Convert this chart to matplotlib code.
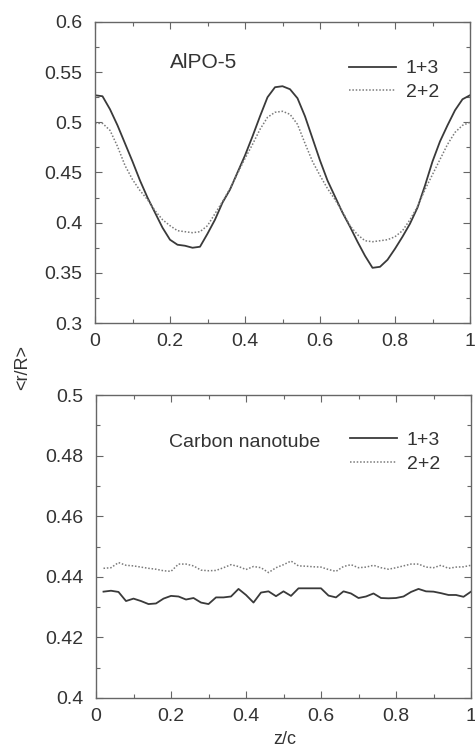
import numpy as np
import matplotlib
matplotlib.use("Agg")
import matplotlib.pyplot as plt
from matplotlib.ticker import MultipleLocator, FuncFormatter

plt.rcParams['font.family'] = ['Liberation Sans', 'DejaVu Sans']

# ---- Top panel (AlPO-5) ----
top_x = np.round(np.arange(0, 1.0001, 0.02), 2)
top_13 = [0.527, 0.526, 0.513, 0.497, 0.479, 0.461, 0.442, 0.425, 0.410, 0.395,
          0.383, 0.378, 0.377, 0.375, 0.376, 0.389, 0.403, 0.420, 0.433, 0.450,
          0.467, 0.486, 0.506, 0.525, 0.535, 0.536, 0.533, 0.524, 0.506, 0.484,
          0.462, 0.442, 0.426, 0.410, 0.396, 0.381, 0.367, 0.355, 0.356, 0.363,
          0.374, 0.386, 0.399, 0.415, 0.437, 0.461, 0.481, 0.497, 0.512, 0.523,
          0.527]
top_22 = [0.499, 0.499, 0.492, 0.476, 0.457, 0.443, 0.432, 0.423, 0.412, 0.403,
          0.397, 0.392, 0.391, 0.390, 0.391, 0.397, 0.409, 0.421, 0.434, 0.449,
          0.464, 0.478, 0.493, 0.505, 0.510, 0.511, 0.508, 0.498, 0.479, 0.461,
          0.447, 0.434, 0.423, 0.411, 0.397, 0.388, 0.382, 0.381, 0.382, 0.383,
          0.386, 0.392, 0.403, 0.416, 0.433, 0.448, 0.463, 0.478, 0.490, 0.497,
          0.500]

# ---- Bottom panel (Carbon nanotube) ----
bot_x = np.round(np.arange(0.02, 1.0001, 0.02), 2)
bot_13 = [0.4351, 0.4354, 0.4350, 0.4320, 0.4328, 0.4320, 0.4310, 0.4312, 0.4328, 0.4337,
          0.4335, 0.4325, 0.4330, 0.4315, 0.4310, 0.4332, 0.4332, 0.4335, 0.4360, 0.4340,
          0.4315, 0.4348, 0.4352, 0.4336, 0.4352, 0.4337, 0.4362, 0.4362, 0.4362, 0.4362,
          0.4338, 0.4332, 0.4352, 0.4345, 0.4330, 0.4335, 0.4345, 0.4330, 0.4329, 0.4330,
          0.4335, 0.4350, 0.4360, 0.4352, 0.4351, 0.4346, 0.4340, 0.4340, 0.4334, 0.4351]
bot_22 = [0.4428, 0.4430, 0.4447, 0.4438, 0.4436, 0.4432, 0.4428, 0.4425, 0.4420, 0.4418,
          0.4442, 0.4442, 0.4436, 0.4422, 0.4420, 0.4421, 0.4430, 0.4440, 0.4434, 0.4424,
          0.4434, 0.4430, 0.4414, 0.4430, 0.4440, 0.4452, 0.4436, 0.4435, 0.4433, 0.4432,
          0.4424, 0.4418, 0.4434, 0.4440, 0.4430, 0.4432, 0.4438, 0.4430, 0.4425, 0.4430,
          0.4436, 0.4442, 0.4442, 0.4432, 0.4430, 0.4438, 0.4428, 0.4432, 0.4433, 0.4438]

series_labels = ["1+3", "2+2"]
top_title = "AlPO-5"
bot_title = "Carbon nanotube"
x_label = "z/c"
y_label = "<r/R>"

W, H = 475, 747
fig = plt.figure(figsize=(W / 100, H / 100), dpi=100)

def frac(l, t, r, b):
    return [l / W, 1 - b / H, (r - l) / W, (b - t) / H]

ax1 = fig.add_axes(frac(95, 22, 470, 323))
ax2 = fig.add_axes(frac(96, 395, 471, 698))

spine_c = '#666666'
txt_c = '#333333'
solid_c = '#3a3a3a'
dot_c = '#7a7a7a'
fs = 14

def fmt(v, pos):
    s = ('%.3f' % v).rstrip('0').rstrip('.')
    return s

for ax in (ax1, ax2):
    for sp in ax.spines.values():
        sp.set_color(spine_c)
        sp.set_linewidth(1.0)
    ax.tick_params(which='both', direction='in', top=True, right=True,
                   colors=spine_c, labelcolor=txt_c, labelsize=fs)
    ax.tick_params(which='major', length=5, width=0.8)
    ax.tick_params(which='minor', length=3, width=0.8)
    ax.tick_params(axis='x', pad=7)
    ax.tick_params(axis='y', pad=9)
    ax.set_xlim(0, 1)
    ax.xaxis.set_major_locator(MultipleLocator(0.2))
    ax.xaxis.set_minor_locator(MultipleLocator(0.1))
    ax.xaxis.set_major_formatter(FuncFormatter(fmt))
    ax.yaxis.set_major_formatter(FuncFormatter(fmt))

ax1.set_ylim(0.3, 0.6)
ax1.yaxis.set_major_locator(MultipleLocator(0.05))
ax1.yaxis.set_minor_locator(MultipleLocator(0.025))
ax2.set_ylim(0.4, 0.5)
ax2.yaxis.set_major_locator(MultipleLocator(0.02))
ax2.yaxis.set_minor_locator(MultipleLocator(0.01))

ax1.plot(top_x, top_13, color=solid_c, lw=1.3, ls='-', label=series_labels[0])
ax1.plot(top_x, top_22, color=dot_c, lw=1.1, ls=(0, (1, 1.2)), label=series_labels[1])
ax2.plot(bot_x, bot_13, color=solid_c, lw=1.3, ls='-', label=series_labels[0])
ax2.plot(bot_x, bot_22, color=dot_c, lw=1.1, ls=(0, (1, 1.2)), label=series_labels[1])

for ax, yanc in ((ax1, 0.9), (ax2, 0.905)):
    ax.legend(loc='upper right', bbox_to_anchor=(0.938, yanc), frameon=False,
              fontsize=fs, handlelength=2.4, handletextpad=0.5,
              labelspacing=0.3, borderaxespad=0, labelcolor=txt_c)

ax1.text(0.289, 0.864, top_title, transform=ax1.transAxes, ha='center',
         va='center', fontsize=15, color=txt_c)
ax2.text(0.395, 0.842, bot_title, transform=ax2.transAxes, ha='center',
         va='center', fontsize=14, color=txt_c)

fig.text(23 / W, 1 - 367 / H, y_label, rotation=90, ha='center', va='center',
         fontsize=13, color=txt_c)
fig.text(285 / W, 1 - 740 / H, x_label, ha='center', va='center',
         fontsize=13, color=txt_c)

fig.savefig('out.png', dpi=100)
